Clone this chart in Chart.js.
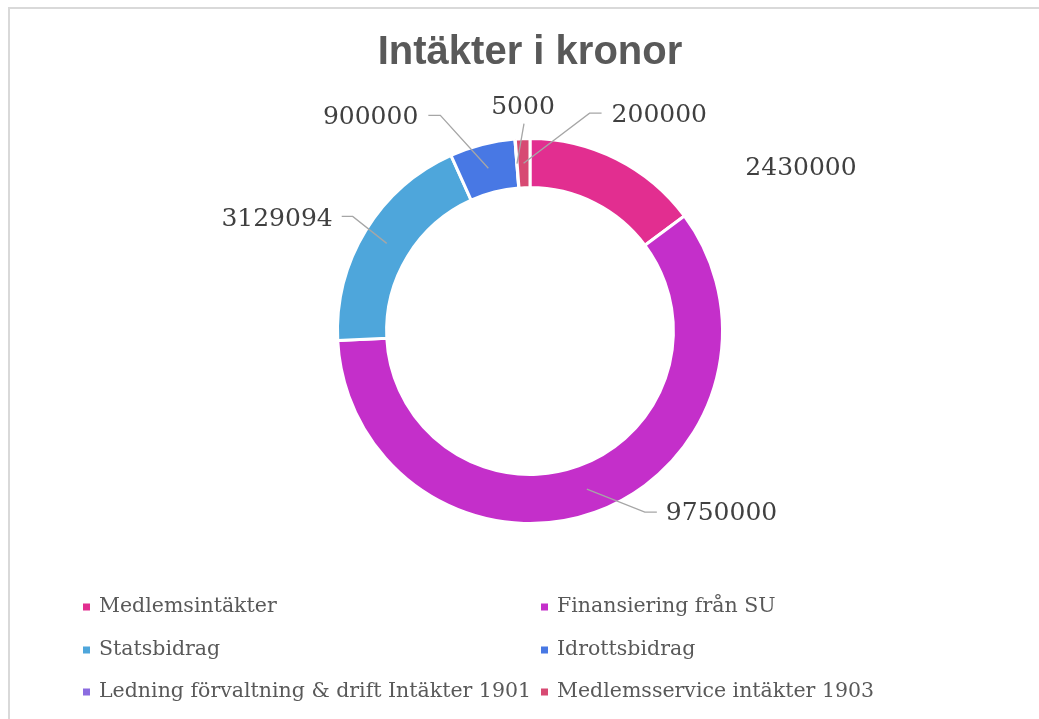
<!DOCTYPE html>
<html><head><meta charset="utf-8">
<script src="https://cdn.jsdelivr.net/npm/chart.js@4.4.1/dist/chart.umd.min.js"></script>
<style>
html,body{margin:0;padding:0;background:#fff;}
#wrap{position:relative;width:1039px;height:719px;overflow:hidden;}
#frame{position:absolute;left:8px;top:7px;width:1100px;height:800px;border-top:2px solid #d9d9d9;border-left:2px solid #d9d9d9;}
canvas{position:absolute;left:0;top:0;}
</style></head><body>
<div id="wrap"><div id="frame"></div><canvas id="c" width="1039" height="719"></canvas></div>
<script>
const chartTitle = 'Intäkter i kronor';
const categories = ['Medlemsintäkter', 'Finansiering från SU', 'Statsbidrag', 'Idrottsbidrag', 'Ledning förvaltning & drift Intäkter 1901', 'Medlemsservice intäkter 1903'];
const values = [2430000, 9750000, 3129094, 900000, 5000, 200000];
const sliceColors = ['#E22E90', '#C42FCA', '#4EA6DB', '#4878E4', '#8B6CE0', '#D74A73'];

// label placement relative to the slice's mid point (layout only)
const labelPlacement = [
  {text: [140, -12], align: 'left'},
  {elbow: [58, 23], end: [70, 23], text: [79, 24], align: 'left'},
  {elbow: [-34, -27], end: [-45, -27], text: [-54, -24], align: 'right'},
  {elbow: [-48, -53], end: [-60, -53], text: [-70, -51], align: 'right'},
  {end: [7, -40], text: [6, -56], align: 'center'},
  {elbow: [66, -50], end: [78, -50], text: [88, -48], align: 'left'}
];
const legendLayout = {cols: [83, 541], rows: [607, 650, 692], box: 7, gap: 9};

const leaderLabels = {
  id: 'leaderLabels',
  afterDatasetsDraw(chart) {
    const ctx = chart.ctx;
    const meta = chart.getDatasetMeta(0);
    const ds = chart.data.datasets[0].data;
    meta.data.forEach((arc, i) => {
      const p = arc.getProps(['x', 'y', 'startAngle', 'endAngle', 'innerRadius', 'outerRadius'], true);
      const a = (p.startAngle + p.endAngle) / 2;
      const r = (p.innerRadius + p.outerRadius) / 2;
      const ax = p.x + Math.cos(a) * r, ay = p.y + Math.sin(a) * r;
      const c = labelPlacement[i];
      ctx.save();
      if (c.end) {
        ctx.beginPath();
        ctx.moveTo(ax, ay);
        if (c.elbow) ctx.lineTo(ax + c.elbow[0], ay + c.elbow[1]);
        ctx.lineTo(ax + c.end[0], ay + c.end[1]);
        ctx.strokeStyle = '#a6a6a6';
        ctx.lineWidth = 1.3;
        ctx.stroke();
      }
      ctx.font = '25px "DejaVu Serif"';
      ctx.fillStyle = '#404040';
      ctx.textAlign = c.align;
      ctx.textBaseline = 'middle';
      ctx.fillText(String(ds[i]), ax + c.text[0], ay + c.text[1]);
      ctx.restore();
    });
  }
};

const gridLegend = {
  id: 'gridLegend',
  afterDraw(chart) {
    const ctx = chart.ctx;
    const labels = chart.data.labels;
    const bg = chart.data.datasets[0].backgroundColor;
    const L = legendLayout;
    ctx.save();
    ctx.font = '20.5px "DejaVu Serif"';
    ctx.textBaseline = 'middle';
    ctx.textAlign = 'left';
    labels.forEach((lab, i) => {
      const x = L.cols[i % 2], y = L.rows[Math.floor(i / 2)];
      ctx.fillStyle = bg[i];
      ctx.fillRect(x, y - L.box / 2, L.box, L.box);
      ctx.fillStyle = '#595959';
      ctx.fillText(lab, x + L.box + L.gap, y);
    });
    ctx.restore();
  }
};

new Chart(document.getElementById('c'), {
  type: 'doughnut',
  data: {
    labels: categories,
    datasets: [{
      data: values,
      backgroundColor: sliceColors,
      borderColor: '#ffffff',
      borderWidth: 3,
      hoverOffset: 0
    }]
  },
  options: {
    responsive: false,
    animation: false,
    cutout: '74.5%',
    layout: {padding: {left: 336, right: 315, top: 0, bottom: 194}},
    plugins: {
      legend: {display: false},
      tooltip: {enabled: false},
      title: {
        display: true,
        text: chartTitle,
        color: '#595959',
        font: {family: '"Liberation Sans", Arial, sans-serif', size: 40, weight: 'bold', lineHeight: 1.2},
        padding: {top: 29, bottom: 60}
      }
    }
  },
  plugins: [leaderLabels, gridLegend]
});
</script>
</body></html>
